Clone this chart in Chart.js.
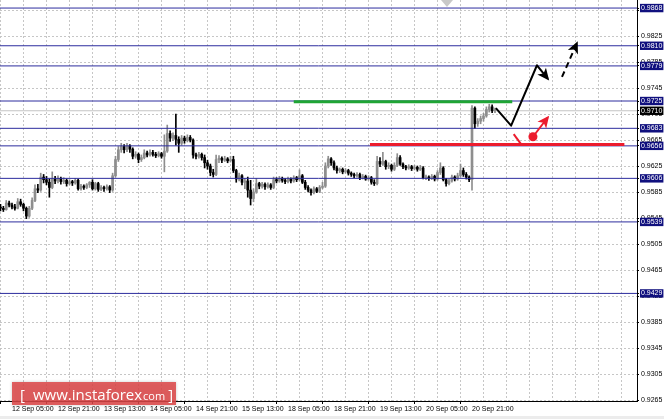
<!DOCTYPE html>
<html>
<head>
<meta charset="utf-8">
<style>
  html, body { margin: 0; padding: 0; background: #ececec; }
  #wrap { width: 664px; height: 416px; background: #fff; }
</style>
<script src="https://cdn.jsdelivr.net/npm/chart.js@4.4.1/dist/chart.umd.min.js"></script>
</head>
<body>
<div id="wrap"><canvas id="chart" width="664" height="416"></canvas></div>
<script>
// H1 candles, prices in pips (price * 10000), bar 0 = left edge
const opens = [
    9562, 9560, 9558, 9568, 9565, 9562, 9560, 9570, 9566, 9560,
    9548, 9560, 9572, 9590, 9588, 9608, 9604, 9600, 9592, 9605,
    9602, 9606, 9601, 9603, 9598, 9601, 9599, 9603, 9590, 9594,
    9592, 9596, 9600, 9590, 9598, 9589, 9592, 9590, 9593, 9588,
    9610, 9635, 9650, 9655, 9650, 9656, 9651, 9640, 9643, 9635,
    9638, 9645, 9642, 9646, 9643, 9641, 9644, 9640, 9648, 9675,
    9668, 9672, 9666, 9660, 9668, 9664, 9669, 9665, 9642, 9640,
    9643, 9638, 9630, 9625, 9615, 9612, 9635, 9637, 9634, 9636,
    9633, 9635, 9618, 9605, 9610, 9600, 9602, 9588, 9575, 9585,
    9598, 9594, 9597, 9593, 9596, 9592, 9604, 9602, 9606, 9603,
    9601, 9605, 9602, 9607, 9604, 9610, 9600, 9592, 9588, 9584,
    9590, 9586, 9592, 9594, 9625, 9636, 9630, 9622, 9618, 9620,
    9616, 9618, 9614, 9612, 9610, 9612, 9607, 9609, 9605, 9607,
    9600, 9598, 9632, 9628, 9632, 9624, 9626, 9620, 9626, 9638,
    9628, 9624, 9622, 9624, 9621, 9623, 9620, 9622, 9607, 9608,
    9606, 9609, 9605, 9615, 9622, 9604, 9598, 9602, 9608, 9605,
    9610, 9618, 9612, 9608, 9604, 9714, 9690, 9694, 9698, 9702,
    9712, 9716, 9710,
];
const highs = [
    9566, 9563, 9572, 9571, 9568, 9566, 9575, 9574, 9568, 9562,
    9563, 9576, 9596, 9597, 9614, 9612, 9609, 9605, 9616, 9609,
    9610, 9608, 9607, 9605, 9604, 9603, 9606, 9605, 9597, 9596,
    9598, 9601, 9604, 9600, 9600, 9595, 9594, 9596, 9595, 9614,
    9640, 9655, 9660, 9658, 9660, 9658, 9653, 9647, 9645, 9642,
    9650, 9648, 9650, 9649, 9646, 9647, 9646, 9673, 9688, 9679,
    9676, 9705, 9670, 9672, 9671, 9673, 9672, 9667, 9645, 9646,
    9645, 9642, 9634, 9628, 9620, 9642, 9641, 9639, 9640, 9638,
    9640, 9640, 9620, 9614, 9612, 9606, 9608, 9603, 9590, 9606,
    9600, 9600, 9599, 9599, 9598, 9608, 9607, 9609, 9608, 9606,
    9608, 9607, 9610, 9609, 9619, 9612, 9603, 9595, 9590, 9593,
    9592, 9595, 9600, 9630, 9640, 9638, 9633, 9625, 9622, 9622,
    9621, 9620, 9616, 9614, 9615, 9614, 9612, 9611, 9610, 9609,
    9604, 9640, 9638, 9646, 9634, 9630, 9628, 9630, 9644, 9641,
    9630, 9626, 9627, 9626, 9626, 9625, 9626, 9624, 9611, 9610,
    9612, 9611, 9618, 9630, 9624, 9606, 9605, 9611, 9610, 9614,
    9628, 9622, 9615, 9610, 9718, 9716, 9698, 9702, 9706, 9716,
    9720, 9719, 9714,
];
const lows = [
    9556, 9555, 9557, 9562, 9559, 9557, 9559, 9563, 9556, 9544,
    9546, 9558, 9570, 9584, 9586, 9599, 9596, 9577, 9590, 9598,
    9599, 9597, 9598, 9594, 9596, 9595, 9597, 9588, 9588, 9589,
    9590, 9592, 9588, 9588, 9586, 9587, 9586, 9588, 9584, 9586,
    9608, 9632, 9646, 9645, 9647, 9646, 9636, 9637, 9630, 9632,
    9636, 9639, 9640, 9640, 9638, 9639, 9637, 9616, 9646, 9663,
    9664, 9657, 9646, 9657, 9660, 9662, 9662, 9637, 9636, 9637,
    9634, 9622, 9620, 9610, 9608, 9610, 9630, 9630, 9632, 9630,
    9631, 9615, 9600, 9602, 9596, 9590, 9577, 9565, 9570, 9583,
    9590, 9591, 9589, 9591, 9589, 9590, 9599, 9600, 9600, 9598,
    9599, 9599, 9600, 9601, 9602, 9598, 9589, 9585, 9580, 9582,
    9584, 9584, 9590, 9592, 9622, 9626, 9619, 9614, 9615, 9613,
    9614, 9611, 9609, 9607, 9608, 9604, 9605, 9603, 9603, 9597,
    9595, 9596, 9624, 9626, 9620, 9621, 9617, 9618, 9624, 9626,
    9621, 9619, 9620, 9618, 9619, 9617, 9618, 9605, 9604, 9603,
    9604, 9602, 9603, 9612, 9602, 9594, 9596, 9600, 9602, 9603,
    9608, 9609, 9605, 9601, 9588, 9683, 9686, 9690, 9694, 9700,
    9708, 9707, 9707,
];
const closes = [
    9560, 9558, 9568, 9565, 9562, 9560, 9570, 9566, 9560, 9548,
    9560, 9572, 9590, 9588, 9608, 9604, 9600, 9592, 9605, 9602,
    9606, 9601, 9603, 9598, 9601, 9599, 9603, 9590, 9594, 9592,
    9596, 9600, 9590, 9598, 9589, 9592, 9590, 9593, 9588, 9610,
    9635, 9650, 9655, 9650, 9656, 9651, 9640, 9643, 9635, 9638,
    9645, 9642, 9646, 9643, 9641, 9644, 9640, 9648, 9675, 9668,
    9672, 9666, 9660, 9668, 9664, 9669, 9665, 9642, 9640, 9643,
    9638, 9630, 9625, 9615, 9612, 9635, 9637, 9634, 9636, 9633,
    9635, 9618, 9605, 9610, 9600, 9602, 9588, 9575, 9585, 9598,
    9594, 9597, 9593, 9596, 9592, 9604, 9602, 9606, 9603, 9601,
    9605, 9602, 9607, 9604, 9610, 9600, 9592, 9588, 9584, 9590,
    9586, 9592, 9594, 9625, 9636, 9630, 9622, 9618, 9620, 9616,
    9618, 9614, 9612, 9610, 9612, 9607, 9609, 9605, 9607, 9600,
    9598, 9632, 9628, 9632, 9624, 9626, 9620, 9626, 9638, 9628,
    9624, 9622, 9624, 9621, 9623, 9620, 9622, 9607, 9608, 9606,
    9609, 9605, 9615, 9622, 9604, 9598, 9602, 9608, 9605, 9610,
    9618, 9612, 9608, 9604, 9714, 9690, 9694, 9698, 9702, 9712,
    9716, 9710, 9710,
];

// time axis: labelled bars and their captions
const timeTicks = [4, 20, 36, 52, 68, 84, 100, 116, 132, 148, 164];
const timeLabels = [
    "12 Sep 05:00", "12 Sep 21:00", "13 Sep 13:00", "14 Sep 05:00",
    "14 Sep 21:00", "15 Sep 13:00", "18 Sep 05:00", "18 Sep 21:00",
    "19 Sep 13:00", "20 Sep 05:00", "20 Sep 21:00",
];

// price axis
const priceTicks = [
    0.9265, 0.9305, 0.9345, 0.9385, 0.9425, 0.9465, 0.9505, 0.9545,
    0.9585, 0.9625, 0.9665, 0.9705, 0.9745, 0.9785, 0.9825, 0.9865,
];
const levels = [0.9868, 0.9810, 0.9779, 0.9725, 0.9683, 0.9656, 0.9606, 0.9539, 0.9429];
const lastPrice = 0.9710;

// analyst marks, [bar, price]
const resistanceLine = [[102, 0.9724], [178, 0.9724]];
const supportLine = [[128.5, 0.9658], [217, 0.9658]];
const mainPath = [[172.3, 0.9714], [177.6, 0.9687], [186.6, 0.9780], [190.4, 0.9759]];
const breakoutPath = [[195.3, 0.9762], [200.5, 0.9814]];
const pullbackTick = [[178.5, 0.9674], [181, 0.9659]];
const reboundPath = [[185.2, 0.9670], [190.4, 0.9700]];

const X_MIN = -0.17, X_MAX = 221.39;
const Y_MIN = 0.92635, Y_MAX = 0.98804;
const FONT = { family: "Liberation Sans, Arial, sans-serif", size: 7 };

const pip = (v) => v / 10000;
const up = (i) => closes[i] >= opens[i];
const candleColor = (ctx) => up(ctx.dataIndex) ? "#8e8e8e" : "#000000";
const pts = (arr) => arr.map(([x, y]) => ({ x, y }));
const tickVal = (ctx) => ctx.tick ? ctx.tick.value : NaN;

const wicks = closes.map((c, i) => ({ x: i, y: [pip(lows[i]), pip(highs[i])] }));
const bodies = closes.map((c, i) => ({ x: i, y: [pip(opens[i]), pip(c)] }));

function lineSet(data, color, width, order, extra = {}) {
    return {
        type: "line",
        data: pts(data),
        borderColor: color,
        backgroundColor: color,
        borderWidth: width,
        pointRadius: 0,
        order,
        ...extra,
    };
}

const datasets = [
    lineSet(mainPath, "#000", 2, 0, { arrowHead: true, borderJoinStyle: "round" }),
    lineSet(breakoutPath, "#000", 2, 0, { arrowHead: true, borderDash: [6, 4] }),
    lineSet(pullbackTick, "#ec1c2e", 2, 0),
    lineSet(reboundPath, "#ec1c2e", 2, 0, { arrowHead: true }),
    {
        type: "line",
        data: pts([reboundPath[0]]),
        showLine: false,
        pointRadius: 4.5,
        pointBackgroundColor: "#ec1c2e",
        pointBorderWidth: 0,
        order: 0,
    },
    lineSet(resistanceLine, "#1fa535", 3, 1),
    lineSet(supportLine, "#ec1c2e", 3, 1),
    ...levels.map((v) => lineSet([[X_MIN - 5, v], [X_MAX + 5, v]], "#2c2c9e", 1, 3)),
    {
        type: "bar",
        data: bodies,
        backgroundColor: candleColor,
        barThickness: 2,
        minBarLength: 1,
        grouped: false,
        order: 4,
    },
    {
        type: "bar",
        data: wicks,
        backgroundColor: candleColor,
        barThickness: 1,
        grouped: false,
        order: 5,
    },
    lineSet([[X_MIN - 5, lastPrice], [X_MAX + 5, lastPrice]], "#c4c4c4", 1, 6),
];

const arrowHeads = {
    id: "arrowHeads",
    afterDatasetsDraw(chart) {
        const ctx = chart.ctx;
        chart.data.datasets.forEach((ds, i) => {
            if (!ds.arrowHead)
                return;
            const p = chart.getDatasetMeta(i).data;
            const a = p[p.length - 2], b = p[p.length - 1];
            const ang = Math.atan2(b.y - a.y, b.x - a.x);
            ctx.save();
            ctx.fillStyle = ds.borderColor;
            ctx.translate(b.x, b.y);
            ctx.rotate(ang);
            ctx.beginPath();
            ctx.moveTo(2, 0);
            ctx.lineTo(-10, -5.5);
            ctx.lineTo(-7, 0);
            ctx.lineTo(-10, 5.5);
            ctx.closePath();
            ctx.fill();
            ctx.restore();
        });
    }
};

const decorations = {
    id: "decorations",
    afterDraw(chart) {
        const ctx = chart.ctx;
        // chart shift marker
        const sx = chart.scales.x.getPixelForValue(155.3);
        ctx.save();
        ctx.fillStyle = "#c8c8c8";
        ctx.beginPath();
        ctx.moveTo(sx - 6, 0);
        ctx.lineTo(sx + 6, 0);
        ctx.lineTo(sx, 7);
        ctx.closePath();
        ctx.fill();

        // watermark
        ctx.shadowColor = "rgba(0,0,0,0.25)";
        ctx.shadowBlur = 3;
        ctx.fillStyle = "rgba(222, 70, 72, 0.85)";
        ctx.fillRect(12, 382, 164, 23);
        ctx.shadowBlur = 0;
        ctx.fillStyle = "#fff";
        ctx.textBaseline = "alphabetic";
        ctx.font = "15px 'Open Sans', sans-serif";
        ctx.fillText("[", 20, 400);
        ctx.fillText("www.instaforex", 33, 400);
        const w = ctx.measureText("www.instaforex").width;
        ctx.font = "11px 'Open Sans', sans-serif";
        ctx.fillText("com", 33 + w + 1, 400);
        const w2 = ctx.measureText("com").width;
        ctx.font = "15px 'Open Sans', sans-serif";
        ctx.fillText("]", 33 + w + w2 + 4, 400);
        ctx.restore();
    }
};

const isPlain = (v) => priceTicks.includes(v);
const timeLabel = (v) => {
    const k = timeTicks.indexOf(v);
    return k >= 0 ? timeLabels[k] : "";
};
const noPad = (s) => {
    s.paddingTop = 0;
    s.paddingBottom = 0;
    s.paddingLeft = 0;
    s.paddingRight = 0;
};

new Chart(document.getElementById("chart"), {
    type: "bar",
    data: { datasets },
    options: {
        responsive: false,
        animation: false,
        layout: { padding: 0, autoPadding: false },
        plugins: {
            legend: { display: false },
            tooltip: { enabled: false },
        },
        scales: {
            x: {
                type: "linear",
                min: X_MIN,
                max: X_MAX,
                offset: false,
                afterBuildTicks: (s) => {
                    const t = [];
                    for (let v = 4; v <= X_MAX; v += 8)
                        t.push({ value: v });
                    s.ticks = t;
                },
                afterFit: (s) => { s.height = 15; noPad(s); },
                grid: {
                    color: "#c6c6c6",
                    tickLength: 3,
                    tickColor: (ctx) => timeLabel(tickVal(ctx)) ? "#000" : "rgba(0,0,0,0)",
                    tickBorderDash: [],
                },
                border: { color: "#000", dash: [2, 2] },
                ticks: {
                    autoSkip: false,
                    maxRotation: 0,
                    align: "start",
                    padding: 1,
                    color: "#000",
                    font: FONT,
                    callback: (v) => timeLabel(v),
                },
            },
            y: {
                position: "right",
                min: Y_MIN,
                max: Y_MAX,
                afterBuildTicks: (s) => {
                    s.ticks = [...priceTicks, ...levels, lastPrice].map((v) => ({ value: v }));
                },
                afterFit: (s) => { s.width = 27; noPad(s); },
                grid: {
                    color: (ctx) => isPlain(tickVal(ctx)) ? "#c6c6c6" : "rgba(0,0,0,0)",
                    tickLength: 2,
                    tickColor: "#000",
                    tickBorderDash: [],
                },
                border: { color: "#000", dash: [2, 2] },
                ticks: {
                    autoSkip: false,
                    padding: 2,
                    font: FONT,
                    callback: (v) => v.toFixed(4),
                    color: (ctx) => isPlain(tickVal(ctx)) ? "#000" : "#fff",
                    showLabelBackdrop: (ctx) => ctx.tick ? !isPlain(ctx.tick.value) : false,
                    backdropColor: (ctx) => tickVal(ctx) === lastPrice ? "#000" : "#10107e",
                    backdropPadding: { left: 1, right: 1, top: 0, bottom: 0 },
                },
            },
        },
    },
    plugins: [arrowHeads, decorations],
});
</script>
</body>
</html>
